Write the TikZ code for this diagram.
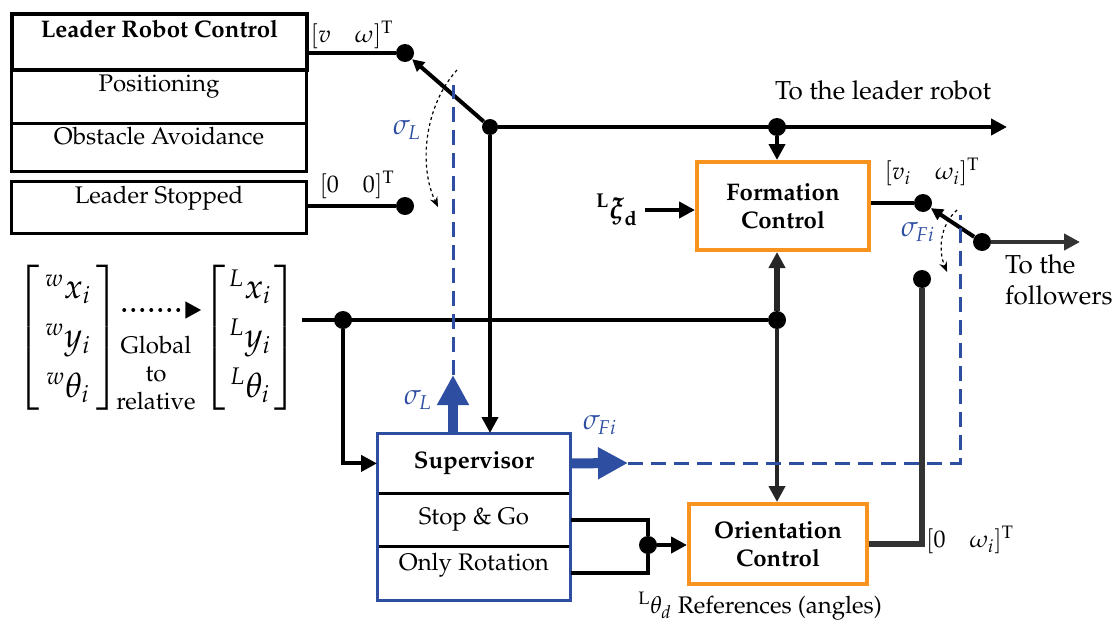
\documentclass[tikz,border=0pt]{standalone}
\usepackage[T1]{fontenc}
\usepackage{mathpazo}
\usepackage{amsmath}
\usetikzlibrary{arrows.meta}

\definecolor{supblue}{RGB}{46,78,162}
\definecolor{ctrlorange}{RGB}{247,147,30}

\tikzset{
  wire/.style={line width=2pt},
  tip/.style={-{Triangle[length=8pt,width=8pt]}},
  smalltip/.style={-{Triangle[length=6pt,width=6pt]}},
  dot/.style={circle,fill=black,inner sep=0pt,minimum size=9pt},
  panel/.style={draw,line width=1.5pt,inner sep=0pt,minimum width=147.5pt,font=\large,anchor=north west},
  ctrl/.style={draw=ctrlorange,line width=2pt,align=center,font=\large\bfseries,inner sep=0pt},
  cell/.style={inner sep=0pt,minimum width=96.5pt,font=\large,anchor=north west},
  pose/.style={inner sep=0pt,font=\LARGE},
  outlab/.style={font=\fontsize{13}{15.5}\selectfont},
  sigma/.style={text=supblue,font=\Large},
  bluearrow/.style={supblue,line width=5pt,-{Triangle[length=15pt,width=15pt]}},
  bluedash/.style={supblue,line width=1.5pt,dash pattern=on 7.5pt off 4pt},
  swarc/.style={line width=0.6pt,dash pattern=on 1.5pt off 1.5pt,-{Stealth[length=5pt,width=4pt]}},
}

\begin{document}
\begin{tikzpicture}[x=0.5pt,y=-0.5pt]
\useasboundingbox (0,0) rectangle (1112,621);

% leader blocks
\node[panel,line width=2pt,font=\large\bfseries,text height=11.5pt,text depth=16.5pt] (lrc) at (10,12) {Leader Robot Control};
\node[panel,text height=11pt,text depth=16pt] (posit) at (10,68) {Positioning};
\node[panel,text height=10.5pt,text depth=13.5pt] (obst) at (10,122) {Obstacle Avoidance};
\node[panel,text height=11pt,text depth=15pt] (lstop) at (10,180) {Leader Stopped};

% switch points
\node[dot] (vw) at (405,53) {};
\node[dot] (zero) at (405,206) {};
\node[dot,minimum size=8pt] (lpiv) at (490,127) {};
\node[dot] (ldot) at (777,127) {};
\node[dot] (vi) at (923,203) {};
\node[dot] (fpiv) at (982,242) {};
\node[dot] (wi) at (922,279) {};
\node[dot] (m1) at (343,320) {};
\node[dot] (m2) at (777,320) {};
\node[dot] (od) at (648,545) {};
\coordinate (toleader) at (1007,127);
\coordinate (tofollow) at (1080,242);
\coordinate (mstart) at (302,320);

% controllers
\node[ctrl,minimum width=86pt,minimum height=44pt] (form) at (783,206) {Formation\\Control};
\node[ctrl,minimum width=89pt,minimum height=40pt] (orient) at (778,544) {Orientation\\Control};
\node[font=\Large] (xid) at (617,210) {$^{\mathbf{L}}\boldsymbol{\xi}_{\mathbf{d}}$};

% supervisor
\node[cell,minimum height=30pt,font=\large\bfseries] (sup) at (377,433) {Supervisor};
\node[cell,minimum height=26.5pt] (sg) at (377,493) {Stop \& Go};
\node[cell,text height=12pt,text depth=15pt] (rot) at (377,546) {Only Rotation};
\draw[line width=1.5pt] (sup.south west) -- (sup.south east);
\draw[line width=1.5pt] (sg.south west) -- (sg.south east);
\draw[supblue,line width=1.5pt] (sup.north west) rectangle (rot.south east);

% poses
\renewcommand{\arraystretch}{1.12}
\setlength{\arraycolsep}{2.5pt}
\node[pose] (wpose) at (68,338) {$\left[\begin{array}{c}{}^{w}x_i\\{}^{w}y_i\\{}^{w}\theta_i\end{array}\right]$};
\setlength{\arraycolsep}{1.5pt}
\node[pose] (lpose) at (250,338) {$\left[\begin{array}{c}{}^{L}x_i\\{}^{L}y_i\\{}^{L}\theta_i\end{array}\right]$};
\node[font=\large,align=center] (g2r) at (156,373) {Global\\to\\relative};
\draw[line width=2pt,dash pattern=on 0pt off 4.5pt,line cap=round,tip] ([yshift=14pt,xshift=2pt]wpose.east) -- ([yshift=14pt]lpose.west);

% leader side wiring
\draw[wire] (lrc.east |- vw) -- (vw);
\draw[wire] (lstop.east |- zero) -- (zero);
\draw[wire,smalltip] (lpiv) -- (vw);
\draw[wire,tip] (lpiv) -- (toleader);
\draw[wire,tip] (ldot) -- (ldot |- form.north);
\draw[wire,tip] (lpiv) -- (lpiv |- sup.north);

% follower side wiring
\draw[wire,tip] (xid) -- (form.west |- xid);
\draw[wire] (form.east |- vi) -- (vi);
\draw[wire,smalltip] (fpiv) -- (vi);
\draw[wire,tip,black!80] (fpiv) -- (tofollow);
\draw[line width=3pt,black!80] (wi) |- (orient.east);

% measurements
\draw[wire] (mstart) -- (m2);
\draw[line width=3pt,black!85,tip] (m2) -- (m2 |- form.south);
\draw[wire,black!85,tip] (m2) -- (m2 |- orient.north);
\draw[wire,tip] (m1) |- (sup.west);

% orientation inputs
\draw[wire] (sg.east) -| (od);
\draw[wire] (rot.east) -| (od);
\draw[wire,tip] (od) -- (orient.west |- od);

% switching signals
\coordinate (sigLtop) at (453,375);
\coordinate (sigLend) at (453,85);
\draw[bluearrow] (sup.north -| sigLtop) -- (sigLtop);
\draw[bluedash] (sigLtop) -- (sigLend);
\coordinate (sigFtip) at (628,463);
\coordinate (sigFcorner) at (960,463);
\coordinate (sigFend) at (960,215);
\draw[bluearrow] (sup.east) -- (sigFtip);
\draw[bluedash] (sigFtip) -- (sigFcorner) -- (sigFend);

\coordinate (arcLa) at (457,70);
\coordinate (arcLb) at (438,207);
\draw[swarc] (arcLa) .. controls (425,105) and (418,165) .. (arcLb);
\coordinate (arcFa) at (957,210);
\coordinate (arcFb) at (947,272);
\draw[swarc] (arcFa) .. controls (940,225) and (938,250) .. (arcFb);

% labels
\node[font=\large] (vwlab) at (352,35) {$[v\quad\omega]^{\mathrm{T}}$};
\node[font=\large] (zerolab) at (357,185) {$[0\quad0]^{\mathrm{T}}$};
\node[font=\large] (vilab) at (932,172) {$[v_i\quad\omega_i]^{\mathrm{T}}$};
\node[font=\large] (wilab) at (970,540) {$[0\quad\omega_i]^{\mathrm{T}}$};
\node[outlab] (leadlab) at (883,90) {To the leader robot};
\node[outlab,align=left,anchor=west] (follab) at (998,280) {To the\\followers};
\node[sigma] (sL1) at (407,130) {$\sigma_L$};
\node[sigma] (sL2) at (418,400) {$\sigma_L$};
\node[sigma] (sF1) at (918,232) {$\sigma_{Fi}$};
\node[sigma] (sF2) at (600,425) {$\sigma_{Fi}$};
\node[font=\large] (thlab) at (760,606) {$^{\mathrm{L}}\theta_d$ References (angles)};
\end{tikzpicture}
\end{document}
